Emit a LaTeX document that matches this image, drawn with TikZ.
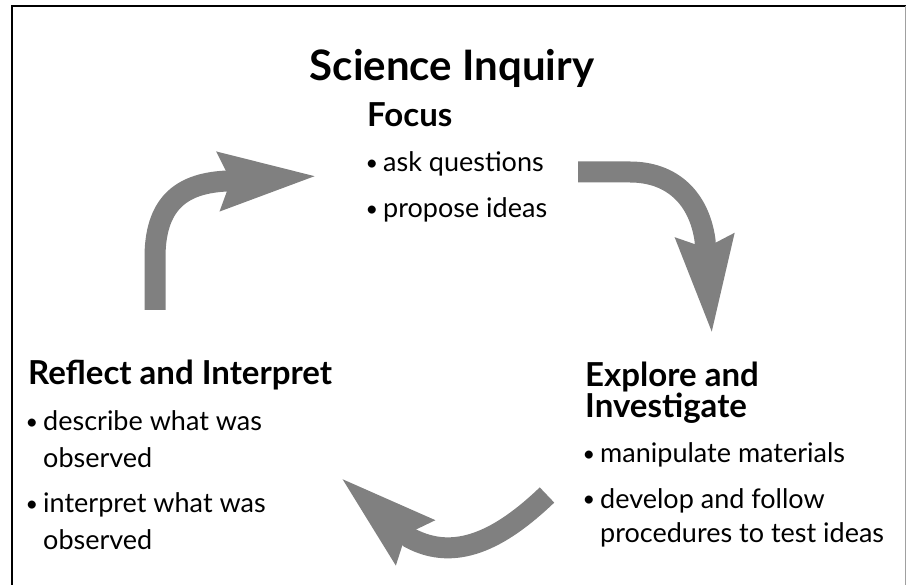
\documentclass[tikz,border=0pt]{standalone}
\usepackage{fontspec}
\usepackage{graphicx}
\setmainfont{Lato}
\usetikzlibrary{arrows.meta}
\definecolor{arrowgray}{HTML}{808080}
\definecolor{framegray}{HTML}{A0A0A0}
\newcommand{\bul}{\llap{\raisebox{1pt}{\scalebox{0.8}{\textbullet}}\hspace{5pt}}}
\begin{document}
\begin{tikzpicture}[x=1pt,y=-1pt,
  flow/.style={draw=arrowgray, line width=21pt, -{Stealth[length=96pt,width=54pt,inset=9pt]}},
  headtext/.style={anchor=base west, inner sep=0pt, font=\fontsize{33}{32}\selectfont\bfseries, align=left},
  itemtext/.style={anchor=base west, inner sep=0pt, font=\fontsize{27}{38}\selectfont, align=left},
  titletext/.style={anchor=base, inner sep=0pt, font=\fontsize{42}{46}\selectfont\bfseries}]
\useasboundingbox (0,0) rectangle (906,585);
\draw[line width=2pt] (12,585) -- (12,6) -- (906,6);
\draw[framegray, line width=1pt] (905,6) -- (905,585);

\node[titletext] (title) at (452,81) {Science Inquiry};

\node[headtext] (focus) at (367,127) {Focus};
\node[itemtext] (f1) at (383,172) {\bul ask questions};
\node[itemtext] (f2) at (383,218) {\bul propose ideas};

\node[headtext] (reflect) at (28,385) {Reflect and Interpret};
\node[itemtext] (r1) at (43,468) {\bul describe what was\\observed};
\node[itemtext] (r2) at (43,550) {\bul interpret what was\\observed};

\node[headtext] (explore) at (585,418) {Explore and\\Investigate};
\node[itemtext, font=\fontsize{27}{35}\selectfont] (e1) at (600,463) {\bul manipulate materials};
\node[itemtext, font=\fontsize{27}{35}\selectfont] (e2) at (600,543) {\bul develop and follow\\procedures to test ideas};

\coordinate (a1s) at (155,310);
\coordinate (a1e) at (318,176);
\coordinate (a2s) at (578,172);
\coordinate (a2e) at (712,335);
\coordinate (a3s) at (547,495);
\coordinate (a3e) at (340,477);

\draw[flow] (a1s) -- (155,255) .. controls (156,200) and (185,183) .. (227,181) -- (a1e);
\draw[flow] (a2s) -- (630,172) .. controls (672,172) and (699,198) .. (705,240) -- (a2e);
\draw[flow] (a3s) .. controls (500,540) and (455,562) .. (410,538) -- (a3e);
\end{tikzpicture}
\end{document}
